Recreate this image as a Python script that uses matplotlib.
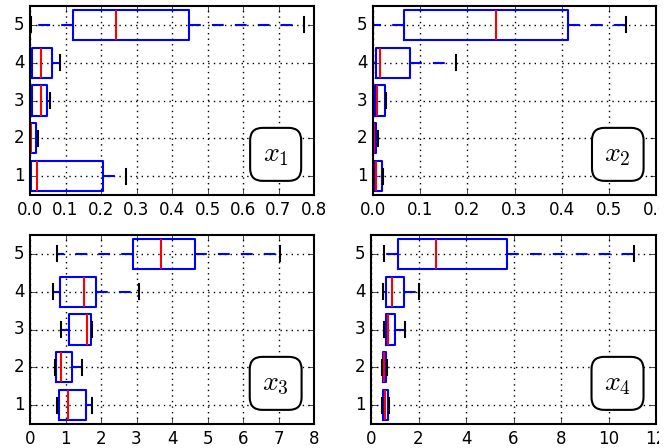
import matplotlib
matplotlib.use("Agg")
import matplotlib.pyplot as plt
from matplotlib.transforms import Bbox, TransformedBbox

plt.style.use("classic")
plt.rcParams["figure.facecolor"] = "white"
plt.rcParams["savefig.facecolor"] = "white"
plt.rcParams["mathtext.fontset"] = "cm"

positions = [1, 2, 3, 4, 5]
labels = ["$x_1$", "$x_2$", "$x_3$", "$x_4$"]

# per panel: whislo, q1, med, q3, whishi for groups 1..5
x1_whislo = [0.0, 0.0, 0.0, 0.0, 0.003]
x1_q1 = [0.002, 0.001, 0.007, 0.007, 0.122]
x1_med = [0.021, 0.003, 0.030, 0.030, 0.242]
x1_q3 = [0.207, 0.017, 0.049, 0.061, 0.447]
x1_whishi = [0.270, 0.022, 0.056, 0.085, 0.773]

x2_whislo = [0.0, 0.0, 0.0, 0.0, 0.0]
x2_q1 = [0.0015, 0.0, 0.004, 0.006, 0.065]
x2_med = [0.006, 0.002, 0.0085, 0.014, 0.261]
x2_q3 = [0.019, 0.007, 0.025, 0.079, 0.413]
x2_whishi = [0.022, 0.011, 0.027, 0.175, 0.536]

x3_whislo = [0.75, 0.70, 0.87, 0.66, 0.75]
x3_q1 = [0.83, 0.72, 1.09, 0.85, 2.91]
x3_med = [1.06, 0.86, 1.60, 1.52, 3.70]
x3_q3 = [1.59, 1.18, 1.73, 1.86, 4.66]
x3_whishi = [1.76, 1.46, 1.75, 3.06, 7.04]

x4_whislo = [0.48, 0.48, 0.55, 0.52, 0.56]
x4_q1 = [0.52, 0.49, 0.62, 0.62, 1.15]
x4_med = [0.59, 0.53, 0.73, 0.87, 2.74]
x4_q3 = [0.72, 0.62, 1.00, 1.39, 5.73]
x4_whishi = [0.74, 0.69, 1.45, 2.04, 11.06]

panels = [
    (x1_whislo, x1_q1, x1_med, x1_q3, x1_whishi),
    (x2_whislo, x2_q1, x2_med, x2_q3, x2_whishi),
    (x3_whislo, x3_q1, x3_med, x3_q3, x3_whishi),
    (x4_whislo, x4_q1, x4_med, x4_q3, x4_whishi),
]
xlims = [(0, 0.8), (0, 0.6), (0, 8), (0, 12)]
xticks = [
    [0.0, 0.1, 0.2, 0.3, 0.4, 0.5, 0.6, 0.7, 0.8],
    [0.0, 0.1, 0.2, 0.3, 0.4, 0.5, 0.6],
    [0, 1, 2, 3, 4, 5, 6, 7, 8],
    [0, 2, 4, 6, 8, 10, 12],
]
xticklabels = [
    ["0.0", "0.1", "0.2", "0.3", "0.4", "0.5", "0.6", "0.7", "0.8"],
    ["0.0", "0.1", "0.2", "0.3", "0.4", "0.5", "0.6"],
    ["0", "1", "2", "3", "4", "5", "6", "7", "8"],
    ["0", "2", "4", "6", "8", "10", "12"],
]

W, H = 669, 448
rects_px = [(30, 6, 314, 195), (373, 6, 656, 195), (30, 235, 314, 424), (371, 235, 656, 424)]

fig = plt.figure(figsize=(6.69, 4.48), dpi=100)
clip = TransformedBbox(Bbox.from_extents(0, 0, 659 / W, 1), fig.transFigure)
for i, (l, t, r, b) in enumerate(rects_px):
    ax = fig.add_axes([l / W, 1 - b / H, (r - l) / W, (b - t) / H])
    wl, q1, md, q3, wh = panels[i]
    stats = []
    for k in range(5):
        stats.append(dict(whislo=wl[k], q1=q1[k], med=md[k], q3=q3[k], whishi=wh[k], fliers=[]))
    ax.bxp(stats, positions=positions, vert=False, widths=0.8, showfliers=False,
           boxprops=dict(color="blue", linewidth=1.5),
           whiskerprops=dict(color="blue", linestyle="--", linewidth=1.5, dashes=(8.5, 8)),
           capprops=dict(color="black", linewidth=1.5),
           medianprops=dict(color="red", linewidth=1.5))
    ax.set_xlim(*xlims[i])
    ax.set_ylim(0.5, 5.5)
    ax.set_xticks(xticks[i])
    ax.set_xticklabels(xticklabels[i])
    ax.set_yticks(positions)
    ax.set_yticklabels([str(p) for p in positions])
    ax.grid(True, color="black", linestyle=":", linewidth=1)
    ax.set_axisbelow(True)
    ax.tick_params(labelsize=12)
    for s in ax.spines.values():
        s.set_linewidth(1.5)
    if i in (1, 3):
        for lab in ax.get_xticklabels():
            lab.set_clip_box(clip)
            lab.set_clip_on(True)
    ax.text(0.865, 0.215, labels[i], transform=ax.transAxes, fontsize=20,
            ha="center", va="center",
            bbox=dict(boxstyle="round,pad=0.45", facecolor="white", edgecolor="black", linewidth=1.5))

fig.savefig("out.png", dpi=100)
